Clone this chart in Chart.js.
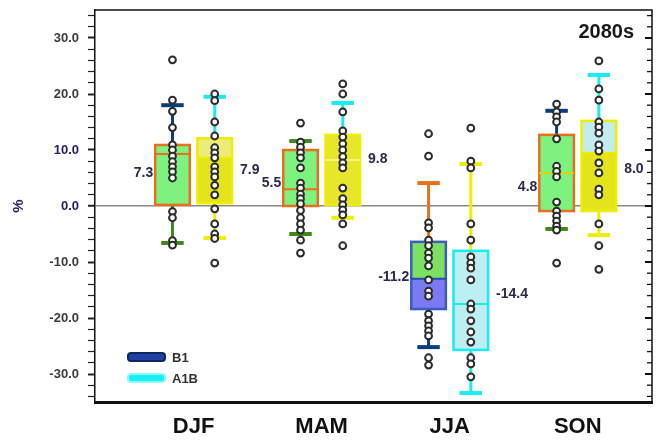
<!DOCTYPE html>
<html><head><meta charset="utf-8">
<script src="https://cdn.jsdelivr.net/npm/chart.js@4.4.1/dist/chart.umd.min.js"></script>
<style>html,body{margin:0;padding:0;background:#fff}</style>
</head><body>
<canvas id="c" width="661" height="444"></canvas>
<script>
// ---------- DATA ----------
const categories = ['DJF', 'MAM', 'JJA', 'SON'];
const yTickValues = [-30, -20, -10, 0, 10, 20, 30];

const b1Q1 = [0.2, 0.0, -18.4, -0.9];
const b1Median = [9.3, 3.0, -13.0, 5.9];
const b1Q3 = [10.9, 10.0, -6.4, 12.7];
const b1WhiskerLow = [-6.6, -5.0, -25.2, -4.1];
const b1WhiskerHigh = [18.0, 11.6, 4.1, 17.0];
const b1Mean = [7.3, 5.5, -11.2, 4.8];

const a1bQ1 = [0.5, 0.2, -25.7, -0.9];
const a1bMedian = [8.6, 8.2, -17.5, 9.5];
const a1bQ3 = [12.1, 12.7, -8.0, 15.2];
const a1bWhiskerLow = [-5.7, -2.1, -33.4, -5.2];
const a1bWhiskerHigh = [19.5, 18.4, 7.5, 23.4];
const a1bMean = [7.9, 9.8, -14.4, 8.0];

const b1DJF = [26.1, 18.9, 16.9, 14.0, 10.9, 10.0, 8.9, 7.9, 7.0, 6.1, 5.0, -1.0, -2.1, -6.2, -7.0];
const b1MAM = [14.8, 11.4, 10.5, 9.5, 8.6, 6.8, 4.1, 3.2, 2.1, 1.3, 0.4, -0.8, -2.1, -3.2, -4.3, -6.1, -8.4];
const b1JJA = [12.9, 8.9, -3.0, -3.9, -6.1, -7.1, -8.4, -9.3, -10.7, -13.2, -15.2, -16.1, -19.3, -20.5, -21.4, -22.3, -23.2, -27.1, -28.4];
const b1SON = [18.2, 16.8, 15.9, 15.0, 12.0, 7.1, 6.2, 5.2, 0.7, -0.9, -1.8, -2.7, -3.6, -4.3, -10.2];

const a1bDJF = [20.0, 18.8, 15.0, 12.5, 10.4, 9.5, 8.6, 7.0, 6.1, 5.2, 3.7, 2.0, -0.5, -3.2, -5.0, -5.8, -10.2];
const a1bMAM = [21.8, 20.0, 16.8, 13.4, 12.3, 11.1, 10.0, 8.8, 7.7, 6.8, 3.2, 1.3, 0.2, -0.7, -1.6, -3.2, -7.1];
const a1bJJA = [13.9, 8.0, 6.8, -3.2, -6.1, -9.1, -10.2, -11.1, -13.2, -17.5, -18.4, -20.5, -22.5, -24.3, -27.1, -28.2, -30.5];
const a1bSON = [25.9, 20.9, 18.9, 15.0, 14.1, 13.0, 10.9, 9.8, 7.7, 5.9, 3.0, 2.0, -3.2, -7.1, -11.3];

const b1Points = [b1DJF, b1MAM, b1JJA, b1SON];
const a1bPoints = [a1bDJF, a1bMAM, a1bJJA, a1bSON];

// ---------- STYLES ----------
const OFFSET = 0.165, HALF = 0.135;
const FONT = '"Liberation Sans", Arial, sans-serif';
const NAVY = '#0b3c7c', GREEN = '#3c8a1c', ORANGE = '#e8701c', CYAN = '#18ecf2', YEL = '#eeee00';
const b1Styles = [
  {upper:'#7ef27e', lower:'#7ef27e', border:ORANGE, median:ORANGE, wHigh:NAVY, wLow:GREEN},
  {upper:'#7ef27e', lower:'#7ef27e', border:ORANGE, median:ORANGE, wHigh:GREEN, wLow:GREEN},
  {upper:'#7ce060', lower:'#7a7af2', border:'#3c5cc0', median:'#2a4aa8', wHigh:ORANGE, wLow:NAVY},
  {upper:'#7ef27e', lower:'#7ef27e', border:ORANGE, median:'#e8d000', wHigh:NAVY, wLow:GREEN}
];
const a1bStyles = [
  {upper:'#ecec7a', lower:'#e4e41c', border:YEL, median:YEL, wHigh:CYAN, wLow:YEL},
  {upper:'#e6e62a', lower:'#e6e62a', border:YEL, median:'#f4f480', wHigh:CYAN, wLow:YEL},
  {upper:'#bdeef2', lower:'#bdeef2', border:CYAN, median:CYAN, wHigh:YEL, wLow:CYAN},
  {upper:'#c2ecf2', lower:'#e4e41c', border:YEL, median:YEL, wHigh:CYAN, wLow:YEL}
];

function toXY(groups, off) {
  const out = [];
  groups.forEach((arr, i) => arr.forEach(v => out.push({x: i + off, y: v})));
  return out;
}

function drawBox(ctx, xs, ys, center, q1, med, q3, wl, wh, st) {
  const cx = xs.getPixelForValue(center);
  const hw = xs.getPixelForValue(center + HALF) - cx;
  const capw = hw * 0.65;
  const p = v => ys.getPixelForValue(v);
  const y1 = p(q1), ym = p(med), y3 = p(q3), yl = p(wl), yh = p(wh);
  ctx.save();
  ctx.lineCap = 'butt';
  ctx.strokeStyle = st.wHigh; ctx.lineWidth = 3;
  ctx.beginPath(); ctx.moveTo(cx, y3); ctx.lineTo(cx, yh); ctx.stroke();
  ctx.lineWidth = 4;
  ctx.beginPath(); ctx.moveTo(cx - capw, yh); ctx.lineTo(cx + capw, yh); ctx.stroke();
  ctx.strokeStyle = st.wLow; ctx.lineWidth = 3;
  ctx.beginPath(); ctx.moveTo(cx, y1); ctx.lineTo(cx, yl); ctx.stroke();
  ctx.lineWidth = 4;
  ctx.beginPath(); ctx.moveTo(cx - capw, yl); ctx.lineTo(cx + capw, yl); ctx.stroke();
  ctx.fillStyle = st.upper; ctx.fillRect(cx - hw, y3, 2 * hw, ym - y3);
  ctx.fillStyle = st.lower; ctx.fillRect(cx - hw, ym, 2 * hw, y1 - ym);
  ctx.strokeStyle = st.border; ctx.lineWidth = 2.5;
  ctx.strokeRect(cx - hw, y3, 2 * hw, y1 - y3);
  ctx.strokeStyle = st.median; ctx.lineWidth = 2;
  ctx.beginPath(); ctx.moveTo(cx - hw, ym); ctx.lineTo(cx + hw, ym); ctx.stroke();
  ctx.restore();
}

const boxPlugin = {
  id: 'boxes',
  beforeDatasetsDraw(chart) {
    const {ctx, scales: {x, y}} = chart;
    categories.forEach((c, i) => {
      drawBox(ctx, x, y, i - OFFSET, b1Q1[i], b1Median[i], b1Q3[i], b1WhiskerLow[i], b1WhiskerHigh[i], b1Styles[i]);
      drawBox(ctx, x, y, i + OFFSET, a1bQ1[i], a1bMedian[i], a1bQ3[i], a1bWhiskerLow[i], a1bWhiskerHigh[i], a1bStyles[i]);
    });
  },
  afterDraw(chart) {
    const {ctx, chartArea: a, scales: {x, y}} = chart;
    ctx.save();
    ctx.strokeStyle = '#111'; ctx.lineWidth = 1.5;
    ctx.beginPath(); ctx.moveTo(a.left, a.top); ctx.lineTo(a.right, a.top); ctx.lineTo(a.right, a.bottom); ctx.stroke();
    y.ticks.forEach(t => {
      const py = y.getPixelForValue(t.value);
      const major = t.value % 10 === 0;
      ctx.lineWidth = major ? 2 : 1.3;
      ctx.beginPath(); ctx.moveTo(a.right - (major ? 7 : 5), py); ctx.lineTo(a.right, py); ctx.stroke();
    });
    ctx.font = 'bold 14px ' + FONT;
    ctx.textBaseline = 'middle';
    const hw = x.getPixelForValue(HALF) - x.getPixelForValue(0);
    categories.forEach((c, i) => {
      ctx.fillStyle = '#2a2a4a';
      ctx.textAlign = 'right';
      ctx.fillText(b1Mean[i].toFixed(1), x.getPixelForValue(i - OFFSET) - hw - 2, y.getPixelForValue(b1Mean[i]) + 8);
      ctx.textAlign = 'left';
      ctx.fillText(a1bMean[i].toFixed(1), x.getPixelForValue(i + OFFSET) + hw + 8, y.getPixelForValue(a1bMean[i]) + 8);
    });
    ctx.fillStyle = '#1a1a1a';
    ctx.font = 'bold 20px ' + FONT;
    ctx.textAlign = 'right';
    ctx.fillText('2080s', a.right - 18, a.top + 22);
    const lx = a.left + 33, ly = a.bottom - 45;
    const sw = (yy, fill, stroke, label) => {
      ctx.fillStyle = fill; ctx.strokeStyle = stroke; ctx.lineWidth = 2;
      ctx.beginPath(); ctx.roundRect(lx, yy - 4, 37, 8, 3); ctx.fill(); ctx.stroke();
      ctx.fillStyle = '#333'; ctx.textAlign = 'left';
      ctx.font = 'bold 13px ' + FONT;
      ctx.fillText(label, lx + 44, yy + 1);
    };
    sw(ly, '#2040a8', '#0b2a5a', 'B1');
    sw(ly + 21, '#18f0f8', '#8ff6fa', 'A1B');
    ctx.restore();
  }
};

const ptStyle = {pointRadius: 3.4, pointBorderWidth: 2, pointBackgroundColor: '#ffffff', pointBorderColor: '#2b2b2b', showLine: false};

new Chart(document.getElementById('c'), {
  type: 'scatter',
  data: {
    datasets: [
      Object.assign({label: 'B1', data: toXY(b1Points, -OFFSET)}, ptStyle),
      Object.assign({label: 'A1B', data: toXY(a1bPoints, OFFSET)}, ptStyle)
    ]
  },
  options: {
    responsive: false, animation: false, devicePixelRatio: 1,
    layout: {padding: {top: 10, right: 9, left: 0, bottom: 0}},
    plugins: {legend: {display: false}, tooltip: {enabled: false}},
    scales: {
      x: {
        type: 'linear', min: -0.77, max: 3.58,
        afterBuildTicks: s => { s.ticks = categories.map((c, i) => ({value: i})); },
        afterFit: s => { s.height = 42; s.paddingLeft = 0; s.paddingRight = 0; },
        ticks: {callback: v => categories[v], color: '#111', padding: 12, autoSkip: false, maxRotation: 0,
                font: {family: FONT, size: 22, weight: 'bold'}},
        grid: {display: false, drawTicks: false},
        border: {display: true, color: '#111', width: 3}
      },
      y: {
        min: -35, max: 35,
        afterBuildTicks: s => { const t = []; for (let v = -34; v <= 34; v += 2) t.push({value: v}); s.ticks = t; },
        afterFit: s => { s.width = 95; s.paddingTop = 0; s.paddingBottom = 0; },
        ticks: {
          autoSkip: false,
          callback: v => yTickValues.includes(v) ? v.toFixed(1) : '',
          color: c => (c.tick && (c.tick.value === 10 || c.tick.value === 0)) ? '#1e1e64' : '#3a3a3a',
          padding: 9,
          font: {family: FONT, size: 13, weight: 'bold'}
        },
        grid: {
          drawOnChartArea: true,
          color: c => (c.tick && c.tick.value === 0) ? '#8a8a8a' : 'rgba(0,0,0,0)',
          lineWidth: c => (c.tick && c.tick.value === 0) ? 1.5 : 1,
          tickColor: '#222', tickLength: 7,
          tickWidth: c => (c.tick && c.tick.value % 10 === 0) ? 2 : 1.2
        },
        border: {display: true, color: '#111', width: 1.5},
        title: {display: true, text: '%', color: '#1e1e64', padding: {top: 10, bottom: 4},
                font: {family: FONT, size: 15, weight: 'bold'}}
      }
    }
  },
  plugins: [boxPlugin]
});
</script>
</body></html>
